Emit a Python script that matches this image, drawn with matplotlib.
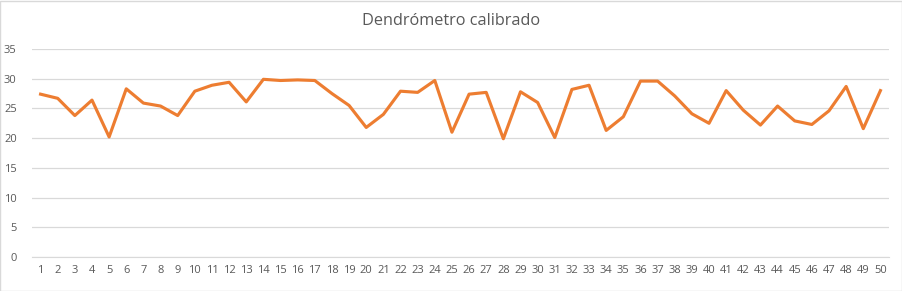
import matplotlib
matplotlib.use("Agg")
import matplotlib.pyplot as plt
from matplotlib.patches import Rectangle

title = "Dendrómetro calibrado"
categories = list(range(1, 51))
values = [27.4, 26.7, 23.8, 26.4, 20.2, 28.3, 25.9, 25.4, 23.8, 27.9,
          28.9, 29.4, 26.1, 29.9, 29.7, 29.8, 29.7, 27.5, 25.5, 21.8,
          24.0, 27.9, 27.7, 29.7, 21.0, 27.4, 27.7, 19.9, 27.8, 26.0,
          20.1, 28.2, 28.9, 21.3, 23.6, 29.6, 29.6, 27.1, 24.1, 22.5,
          28.0, 24.7, 22.2, 25.4, 22.9, 22.3, 24.6, 28.7, 21.6, 28.0]
yticks = [0, 5, 10, 15, 20, 25, 30, 35]

plt.rcParams['font.family'] = ['Open Sans', 'DejaVu Sans']
fig = plt.figure(figsize=(9.03, 2.91), dpi=100)
fig.patches.append(Rectangle((0.0005, 0.0015), 0.998, 0.996, transform=fig.transFigure,
                             fill=False, edgecolor='#D9D9D9', linewidth=1))
ax = fig.add_axes([32/903, 34/291, 857/903, 208/291])
ax.plot(categories, values, color='#ED7D31', linewidth=2.25, solid_joinstyle='round')
ax.set_xlim(0.5, 50.5)
ax.set_ylim(0, 35)
ax.set_yticks(yticks)
ax.set_xticks(categories)
ax.set_xticklabels([str(c) for c in categories])
ax.grid(axis='y', color='#D9D9D9', linewidth=0.9)
ax.set_axisbelow(True)
for s in ['top', 'right', 'left']:
    ax.spines[s].set_visible(False)
ax.spines['bottom'].set_color('#D9D9D9')
ax.tick_params(axis='both', length=0, labelsize=8, colors='#595959', pad=6)
ax.tick_params(axis='y', pad=11)
for lbl in ax.get_yticklabels():
    lbl.set_horizontalalignment('right')
fig.text(0.5, 1 - 21/291, title, ha='center', va='center', fontsize=11.7, color='#595959')
fig.savefig('out.png', dpi=100)
